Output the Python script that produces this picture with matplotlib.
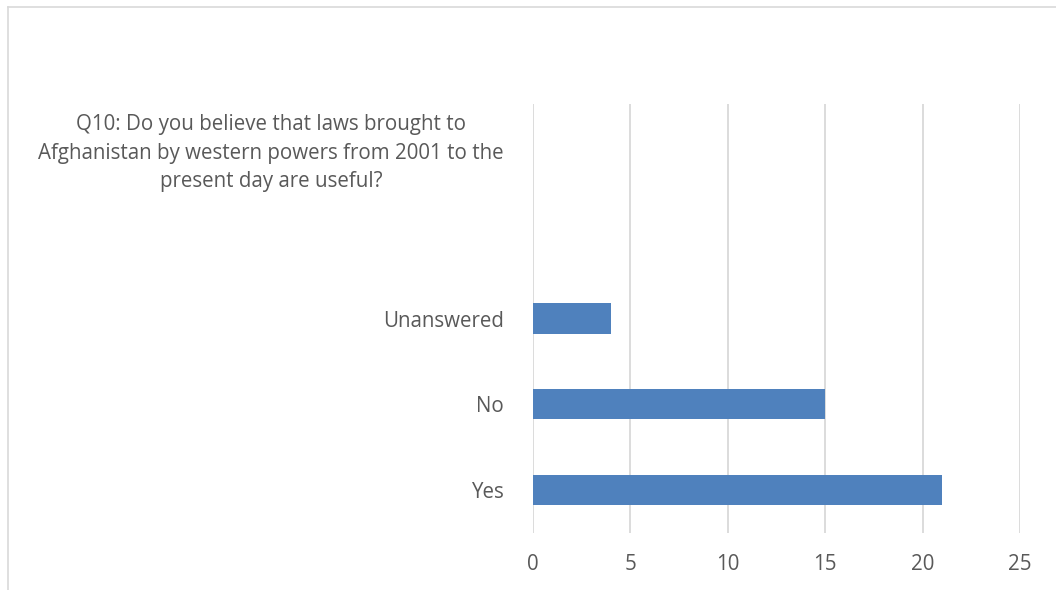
import matplotlib
matplotlib.use('Agg')
from matplotlib import pyplot as plt
from matplotlib.lines import Line2D

categories = ['Yes', 'No', 'Unanswered', '',
              'Q10: Do you believe that laws brought to\nAfghanistan by western powers from 2001 to the\npresent day are useful?']
values = [21, 15, 4, 0, 0]
xticks = [0, 5, 10, 15, 20, 25]

plt.rcParams['font.family'] = ['Open Sans', 'DejaVu Sans']

fig = plt.figure(figsize=(10.56, 5.9), dpi=100)
ax = fig.add_axes([0.5047, 0.0966, 0.4612, 0.7271])

ax.barh(range(len(categories)), values, height=0.35, color='#4F81BD', zorder=3)
ax.set_xlim(0, 25)
ax.set_ylim(-0.5, len(categories) - 0.5)
ax.set_xticks(xticks)
ax.set_yticks(range(len(categories)))
ax.set_yticklabels(categories)
ax.grid(axis='x', color='#D9D9D9', linewidth=1.3, zorder=0)
for s in ax.spines.values():
    s.set_visible(False)
ax.tick_params(axis='both', length=0, labelsize=14.8, labelcolor='#595959')
ax.tick_params(axis='y', pad=21)
ax.tick_params(axis='x', pad=15)
q = ax.get_yticklabels()[-1]
q.set_multialignment('center')
q.set_linespacing(1.45)

# chart frame (only top and left edges visible)
fig.add_artist(Line2D([8/1056, 1], [1 - 7/590, 1 - 7/590], color='#D9D9D9', linewidth=1.2))
fig.add_artist(Line2D([8/1056, 8/1056], [0, 1 - 7/590], color='#D9D9D9', linewidth=1.2))

plt.savefig('out.png', dpi=100)
